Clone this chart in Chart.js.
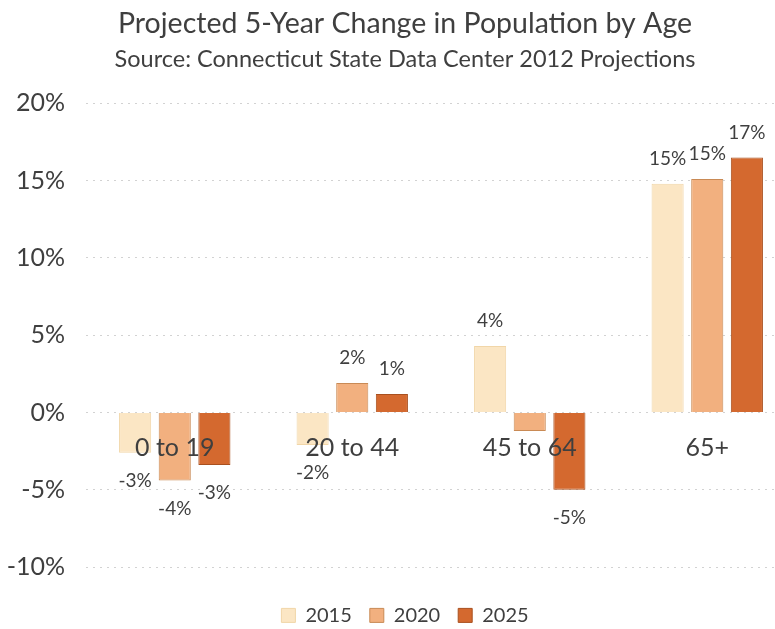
<!DOCTYPE html>
<html>
<head>
<meta charset="utf-8">
<script src="https://cdn.jsdelivr.net/npm/chart.js@4"></script>
<style>
  html, body { margin: 0; padding: 0; background: #fff; overflow: hidden; }
  #wrap { width: 810px; height: 629px; }
</style>
</head>
<body>
<div id="wrap"><canvas id="popChart"></canvas></div>
<script>
// Data
const ageGroups = ["0 to 19", "20 to 44", "45 to 64", "65+"];
const change2015 = [-2.6, -2.1, 4.3, 14.8];
const change2020 = [-4.4, 1.9, -1.2, 15.1];
const change2025 = [-3.4, 1.2, -5.0, 16.5];
// labels shown on the bars (the 2020 45-64 label is not shown in the original)
const labels2015 = ["-3%", "-2%", "4%", "15%"];
const labels2020 = ["-4%", "2%", null, "15%"];
const labels2025 = ["-3%", "1%", "-5%", "17%"];
const yTicks = [-10, -5, 0, 5, 10, 15, 20];

const textColor = '#3f3f3f';
const fontName = 'Lato, "Open Sans", sans-serif';

// draws the value labels above / below each bar
const barLabels = {
    id: 'barLabels',
    afterDatasetsDraw(chart) {
        const ctx = chart.ctx;
        ctx.save();
        ctx.font = '19px ' + fontName;
        ctx.fillStyle = textColor;
        ctx.textAlign = 'center';
        ctx.textBaseline = 'middle';
        chart.data.datasets.forEach((ds, i) => {
            const meta = chart.getDatasetMeta(i);
            meta.data.forEach((bar, j) => {
                const txt = ds.valueLabels[j];
                if (!txt) return;
                const v = ds.data[j];
                if (v >= 0) {
                    ctx.fillText(txt, bar.x, bar.y - 25);
                } else {
                    ctx.fillText(txt, bar.x, bar.y + 28);
                }
            });
        });
        ctx.restore();
    }
};

// y axis percent labels, drawn by hand so the wide "-10%" is not cut off
const yLabels = {
    id: 'yLabels',
    afterDraw(chart) {
        const ctx = chart.ctx;
        const yScale = chart.scales.y;
        ctx.save();
        ctx.font = '25px ' + fontName;
        ctx.fillStyle = textColor;
        ctx.textAlign = 'right';
        ctx.textBaseline = 'middle';
        yTicks.forEach(v => {
            ctx.fillText(v + '%', chart.chartArea.left - 21, yScale.getPixelForValue(v));
        });
        ctx.restore();
    }
};

// leave room between the plot and the legend, like the original
const legendSpace = {
    id: 'legendSpace',
    beforeInit(chart) {
        const origFit = chart.legend.fit;
        chart.legend.fit = function () {
            origFit.bind(chart.legend)();
            this.height = 62;
        };
    }
};

new Chart(document.getElementById('popChart').getContext('2d'), {
    type: 'bar',
    data: {
        labels: ageGroups,
        datasets: [
            { label: '2015', data: change2015, valueLabels: labels2015, backgroundColor: '#fbe6c4', borderColor: '#f1d6a8', borderWidth: 1 },
            { label: '2020', data: change2020, valueLabels: labels2020, backgroundColor: '#f2b07f', borderColor: '#c98a55', borderWidth: 1 },
            { label: '2025', data: change2025, valueLabels: labels2025, backgroundColor: '#d4692f', borderColor: '#a9501f', borderWidth: 1 }
        ]
    },
    options: {
        responsive: true,
        maintainAspectRatio: false,
        animation: false,
        layout: { padding: { left: 14, right: 14, top: 7, bottom: 0 } },
        datasets: {
            bar: { categoryPercentage: 0.67, barPercentage: 0.81 }
        },
        scales: {
            x: {
                position: { y: 0 },
                grid: { display: false },
                border: { display: false },
                ticks: { z: 1, color: textColor, font: { size: 25, family: fontName }, padding: 12 }
            },
            y: {
                min: -10,
                max: 20,
                afterBuildTicks(scale) {
                    scale.ticks = yTicks.map(v => ({ value: v }));
                },
                afterFit(scale) {
                    scale.width = 72;
                },
                grid: { color: '#d2d2d2', lineWidth: 1, drawTicks: false },
                border: { display: false, dash: [2, 5] },
                ticks: { display: false }
            }
        },
        plugins: {
            title: {
                display: true,
                text: 'Projected 5-Year Change in Population by Age',
                color: textColor,
                font: { size: 28.5, family: fontName, weight: 'normal' },
                padding: { top: 0, bottom: 4 }
            },
            subtitle: {
                display: true,
                text: 'Source: Connecticut State Data Center 2012 Projections',
                color: textColor,
                font: { size: 23.5, family: fontName, weight: 'normal' },
                padding: { top: 0, bottom: 30 }
            },
            legend: {
                position: 'bottom',
                title: { display: true, text: ' ', font: { size: 12 }, padding: 3 },
                labels: {
                    color: textColor,
                    font: { size: 20, family: fontName },
                    boxWidth: 14,
                    boxHeight: 14,
                    padding: 18
                }
            },
            tooltip: { enabled: false }
        }
    },
    plugins: [barLabels, yLabels, legendSpace]
});
</script>
</body>
</html>
